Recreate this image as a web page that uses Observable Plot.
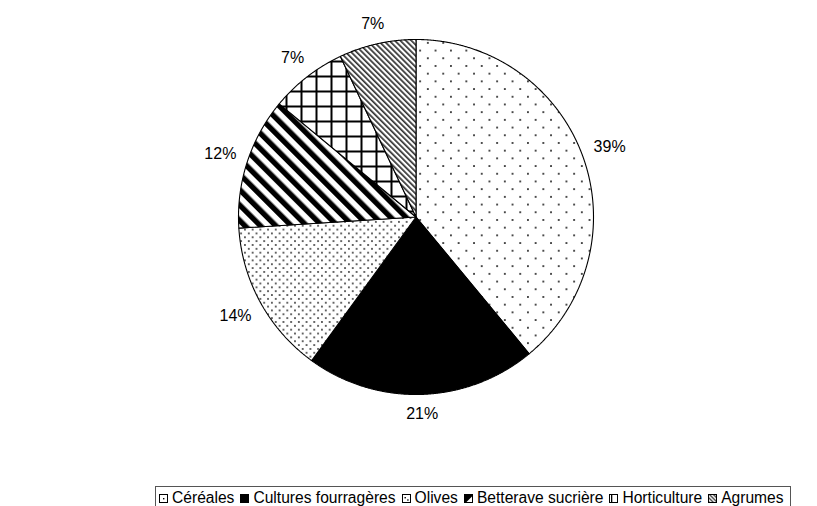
<!DOCTYPE html>
<html>
<head>
<meta charset="utf-8">
<script src="https://cdn.jsdelivr.net/npm/d3@7"></script>
<script src="https://cdn.jsdelivr.net/npm/@observablehq/plot@0.6"></script>
<style>
  html, body { margin: 0; padding: 0; background: #fff; }
  body { font-family: "Liberation Sans", Arial, sans-serif; width: 817px; height: 506px; overflow: hidden; position: relative; }
  #legend {
    position: absolute; left: 155px; top: 486px; width: 636px; height: 26px;
    border: 1px solid #555; box-sizing: border-box;
    display: flex; align-items: center; padding-left: 3px; padding-bottom: 2px;
    font-size: 15.6px; color: #000; white-space: nowrap;
  }
  .item { display: flex; align-items: center; margin-right: 6px; }
  .item svg { margin-right: 4px; flex: none; }
</style>
</head>
<body>
<svg width="0" height="0" style="position:absolute">
  <defs>
    <pattern id="p-cereales" patternUnits="userSpaceOnUse" width="15.4" height="15.4">
      <rect width="15.4" height="15.4" fill="#fff"/>
      <circle cx="3.85" cy="3.85" r="1" fill="#111"/>
      <circle cx="11.55" cy="11.55" r="1" fill="#111"/>
    </pattern>
    <pattern id="p-olives" patternUnits="userSpaceOnUse" width="7.7" height="7.7">
      <rect width="7.7" height="7.7" fill="#fff"/>
      <circle cx="1.9" cy="1.9" r="0.9" fill="#222"/>
      <circle cx="5.75" cy="5.75" r="0.9" fill="#222"/>
    </pattern>
    <pattern id="p-betterave" patternUnits="userSpaceOnUse" width="10.9" height="10.9" patternTransform="rotate(-45)">
      <rect width="10.9" height="10.9" fill="#fff"/>
      <rect x="0" y="0" width="5.4" height="10.9" fill="#000"/>
    </pattern>
    <pattern id="p-horti" patternUnits="userSpaceOnUse" width="15" height="15">
      <rect width="15" height="15" fill="#fff"/>
      <rect x="0" y="0" width="2" height="15" fill="#000"/>
      <rect x="0" y="0" width="15" height="2" fill="#000"/>
    </pattern>
    <pattern id="p-agrumes" patternUnits="userSpaceOnUse" width="3.9" height="3.9" patternTransform="rotate(-45)">
      <rect width="3.9" height="3.9" fill="#fff"/>
      <rect x="0" y="0" width="1.7" height="3.9" fill="#333"/>
    </pattern>
    <pattern id="m-agrumes" patternUnits="userSpaceOnUse" width="2.8" height="2.8" patternTransform="rotate(-45)">
      <rect width="2.8" height="2.8" fill="#fff"/>
      <rect x="0" y="0" width="1.3" height="2.8" fill="#333"/>
    </pattern>
  </defs>
</svg>
<div id="chart"></div>
<div id="legend"></div>
<script>
// ---- data ----
const categories = ["Céréales", "Cultures fourragères", "Olives", "Betterave sucrière", "Horticulture", "Agrumes"];
const shares = [39, 21, 14, 12, 7, 7];
const labels = ["39%", "21%", "14%", "12%", "7%", "7%"];

// ---- styles ----
const fills = ["url(#p-cereales)", "#000", "url(#p-olives)", "url(#p-betterave)", "url(#p-horti)", "url(#p-agrumes)"];

// ---- layout ----
const W = 817, H = 480, CX = 415.5, CY = 216.5, R = 177.5, FS = 16;

const arcs = d3.pie().sort(null).value(d => d)(shares);

const slices = arcs.map((a, i) => {
  const n = Math.max(2, Math.ceil((a.endAngle - a.startAngle) / 0.004));
  const pts = [{x: 0, y: 0}];
  for (let k = 0; k <= n; k++) {
    const t = a.startAngle + (a.endAngle - a.startAngle) * k / n;
    pts.push({x: Math.sin(t), y: Math.cos(t)});
  }
  pts.push({x: 0, y: 0});
  return pts;
});

const labelData = arcs.map((a, i) => {
  const m = (a.startAngle + a.endAngle) / 2;
  const s = Math.sin(m), c = Math.cos(m);
  const txt = labels[i];
  const w = ((txt.length - 1) * 0.556 + 0.889) * FS;
  const h = FS;
  const off = 10.5 + Math.abs(s) * w / 2 + Math.abs(c) * h / 2;
  const r = 1 + off / R;
  return {x: s * r, y: c * r, text: txt};
});

const plot = Plot.plot({
  width: W,
  height: H,
  margin: 0,
  style: {background: "#fff", fontFamily: "'Liberation Sans', Arial, sans-serif"},
  x: {domain: [-CX / R, (W - CX) / R], axis: null},
  y: {domain: [-(H - CY) / R, CY / R], axis: null},
  marks: [
    ...slices.map((pts, i) => Plot.line(pts, {
      x: "x", y: "y", fill: fills[i], stroke: "#000", strokeWidth: 1.1, strokeLinejoin: "miter"
    })),
    Plot.text(labelData, {
      x: "x", y: "y", text: "text", fontSize: FS, fill: "#000",
      textAnchor: "middle", lineAnchor: "middle"
    })
  ]
});
document.getElementById("chart").appendChild(plot);

// ---- legend ----
const markers = [
  `<rect x="0.5" y="0.5" width="8" height="8" fill="#fff" stroke="#000"/><rect x="4" y="4" width="1.4" height="1.4" fill="#000"/>`,
  `<rect x="0" y="0" width="9" height="9" fill="#000"/>`,
  `<rect x="0.5" y="0.5" width="8" height="8" fill="#fff" stroke="#000"/><rect x="2.5" y="3" width="1.4" height="1.4" fill="#000"/><rect x="5.2" y="5.3" width="1.4" height="1.4" fill="#000"/>`,
  `<rect x="0.5" y="0.5" width="8" height="8" fill="#fff" stroke="#000"/><polygon points="0,0 9,0 9,1.5 1.5,9 0,9" fill="#000"/>`,
  `<rect x="0.5" y="0.5" width="8" height="8" fill="#fff" stroke="#000"/><rect x="2" y="1" width="1.3" height="7" fill="#000"/>`,
  `<rect x="0.5" y="0.5" width="8" height="8" fill="url(#m-agrumes)" stroke="#000"/>`
];
const legend = d3.select("#legend");
categories.forEach((c, i) => {
  const it = legend.append("div").attr("class", "item");
  it.append("svg").attr("width", 9).attr("height", 9).html(markers[i]);
  it.append("span").text(c);
});
</script>
</body>
</html>
